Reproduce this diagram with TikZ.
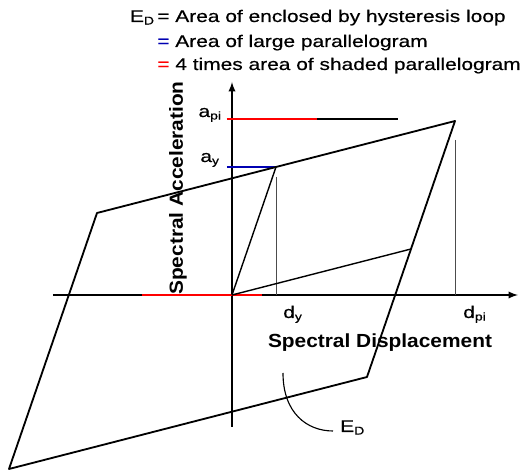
\documentclass[tikz,border=0pt]{standalone}
\usepackage{fontspec}
\setmainfont{Liberation Sans}
\newfontfamily\lblfont[FakeStretch=1.24,FakeBold=0.5]{Liberation Sans}
\newfontfamily\axfont[FakeStretch=1.1]{Liberation Sans}
\usetikzlibrary{calc}

\tikzset{
  lbl/.style={inner sep=0pt, font=\lblfont\fontsize{12}{14}\selectfont},
  axlbl/.style={inner sep=0pt, font=\axfont\bfseries\fontsize{13.5}{16}\selectfont},
  loopline/.style={line width=1.3pt, line join=round},
  innerline/.style={line width=1pt},
  guide/.style={line width=0.6pt, black!70},
}

\begin{document}
\begin{tikzpicture}[x=0.025cm, y=0.025cm]
\useasboundingbox (-232,-177) rectangle (288,295);

% corners of the hysteresis loop
\coordinate (O) at (0,0);
\coordinate (A) at (223,174);
\coordinate (B) at (-135,82);
\coordinate (C) at (-223,-174);
\coordinate (D) at (135,-82);
\coordinate (Y) at ($(B)!0.5!(A)$);
\coordinate (P) at ($(D)!0.5!(A)$);

% axes
\coordinate (xl) at (-179,0);
\coordinate (xr) at (286,0);
\coordinate (yb) at (0,-132);
\coordinate (yt) at (0,213);
\coordinate (xredl) at (-90,0);
\coordinate (xredr) at (30,0);
\draw[loopline,-latex] (xl) -- (xr);
\draw[loopline,-latex] (yb) -- (yt);
\draw[loopline,red] (xredl) -- (xredr);

% a_pi and a_y levels
\coordinate (api) at (-5,176);
\coordinate (apimid) at (85,176);
\coordinate (apiend) at (166,176);
\coordinate (ay) at (-5,128);
\draw[line width=1pt] (api) -- (apiend);
\draw[line width=1pt,red] (api) -- (apimid);
\draw[line width=1pt,blue!70!black] (ay) -- (Y);

% guides down to d_y and d_pi
\coordinate (dyt) at (44,118);
\coordinate (dpit) at (223,155);
\draw[guide] (dyt) -- (dyt |- O);
\draw[guide] (dpit) -- (dpit |- O);

% loop and shaded parallelogram
\draw[loopline] (A) -- (B) -- (C) -- (D) -- cycle;
\draw[innerline] (O) -- (Y);
\draw[innerline] (O) -- (P);

% labels
\node[lbl,anchor=base east] (apilab) at (-10,178) {a\textsubscript{pi}};
\node[lbl,anchor=base east] (aylab) at (-12,133) {a\textsubscript{y}};
\node[lbl,anchor=base west] (dylab) at (51,-23) {d\textsubscript{y}};
\node[lbl,anchor=base west] (dpilab) at (231,-23) {d\textsubscript{pi}};
\node[axlbl] (xlab) at (148,-48) {Spectral Displacement};
\node[axlbl,rotate=90] (ylab) at (-54,107) {Spectral Acceleration};

% pointer to E_D
\coordinate (arcs) at (51,-78);
\coordinate (arce) at (101,-136);
\draw[line width=0.8pt] (arcs) .. controls (51,-118) and (75,-136) .. (arce);
\node[lbl,anchor=base west] (edlab) at (108,-137) {E\textsubscript{D}};

% header
\node[lbl,anchor=base east] (hed) at (-77,273) {E\textsubscript{D}};
\node[lbl,anchor=base west] (hone) at (-75,273) {= Area of enclosed by hysteresis loop};
\node[lbl,anchor=base west] (htwo) at (-75,248) {{\color{blue!70!black}=} Area of large parallelogram};
\node[lbl,anchor=base west] (hthree) at (-75,225) {{\color{red}=} 4 times area of shaded parallelogram};
\end{tikzpicture}
\end{document}
